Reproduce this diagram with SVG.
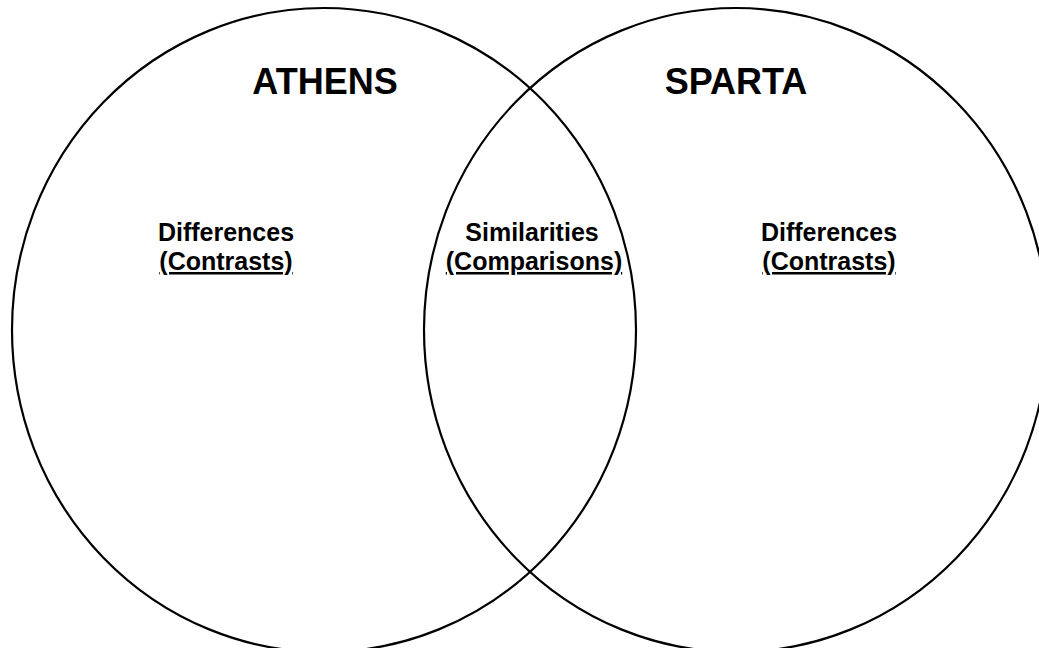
<svg xmlns="http://www.w3.org/2000/svg" width="1039" height="648" viewBox="0 0 1039 648">
  <style>
    .ring { fill: none; stroke: #000; stroke-width: 2.2; }
    .title { font-family: "Liberation Sans", Arial, sans-serif; font-weight: bold; font-size: 36px; fill: #000; text-anchor: middle; }
    .label { font-family: "Liberation Sans", Arial, sans-serif; font-weight: bold; font-size: 25px; fill: #000; text-anchor: middle; }
    .ul { text-decoration: underline; }
  </style>
  <rect width="1039" height="648" fill="#fff"/>

  <!-- Athens set -->
  <g id="athens">
    <ellipse class="ring" cx="324" cy="330" rx="312" ry="322"/>
    <text class="title" x="325" y="94">ATHENS</text>
    <text class="label" x="226" y="241">Differences</text>
    <text class="label ul" x="226" y="270">(Contrasts)</text>
  </g>

  <!-- Sparta set -->
  <g id="sparta">
    <ellipse class="ring" cx="736" cy="330" rx="312" ry="322"/>
    <text class="title" x="736" y="94">SPARTA</text>
    <text class="label" x="829" y="241">Differences</text>
    <text class="label ul" x="829" y="270">(Contrasts)</text>
  </g>

  <!-- Shared region -->
  <g id="overlap">
    <text class="label" x="532" y="241">Similarities</text>
    <text class="label ul" x="534" y="270">(Comparisons)</text>
  </g>
</svg>
